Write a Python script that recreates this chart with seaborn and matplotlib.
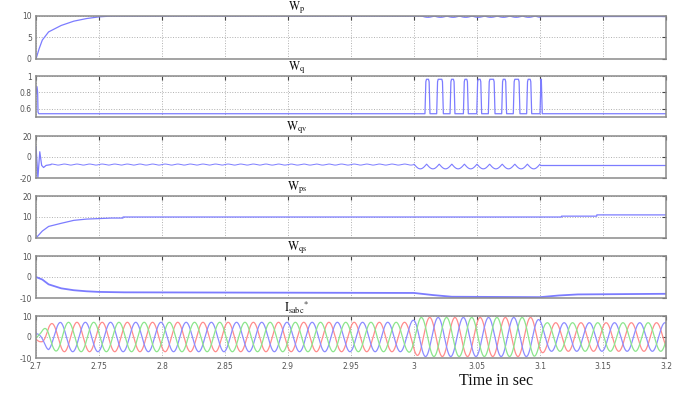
import numpy as np
import pandas as pd
import matplotlib
matplotlib.use("Agg")
import matplotlib.pyplot as plt
import seaborn as sns

sns.set_style("white")
plt.rcParams["mathtext.fontset"] = "stix"

# ---- values ----
x_ticks = [2.7, 2.75, 2.8, 2.85, 2.9, 2.95, 3.0, 3.05, 3.1, 3.15, 3.2]
x_labels = ["2.7", "2.75", "2.8", "2.85", "2.9", "2.95", "3", "3.05", "3.1", "3.15", "3.2"]

# W_p : rise then flat at 10, small dips between 3.006 and 3.1
wp_t = [2.7, 2.7025, 2.705, 2.71, 2.72, 2.73, 2.74, 2.75, 2.76, 3.006]
wp_v = [0.0, 2.4, 4.4, 6.3, 7.8, 8.8, 9.4, 9.8, 10.0, 10.0]
wp_dip_span = [3.006, 3.1]
wp_dip_depth = 0.3
wp_tail_t = [3.1, 3.2]
wp_tail_v = [10.0, 10.0]

# W_q : start spike, base level, pulse train
wq_t = [2.7, 2.7008, 2.7013, 2.7016, 2.7022, 3.0087]
wq_v = [0.78, 0.87, 0.80, 0.56, 0.54, 0.54]
wq_base = 0.54
wq_top = 0.96
wq_on = [3.0087, 3.0180, 3.0286, 3.0392, 3.0498, 3.0590, 3.0696, 3.0788, 3.0894, 3.1000]
wq_off = [3.0127, 3.0233, 3.0325, 3.0431, 3.0537, 3.0643, 3.0735, 3.0841, 3.0934, 3.1018]

# W_qv : transient, fine ripple, bigger ripple, flat
wqv_t = [2.7, 2.7008, 2.7015, 2.703, 2.7045, 2.706, 2.708, 2.712]
wqv_v = [10.0, -5.0, -20.0, 5.0, -8.0, -10.0, -8.0, -7.2]
wqv_fine = [2.712, 3.0, -7.2, 0.5]      # start, end, level, ripple
wqv_big = [3.0, 3.1, -6.8, 4.5]
wqv_tail_t = [3.1, 3.2]
wqv_tail_v = [-7.7, -7.7]
ripple_hz = 50

# W_ps : rise then small steps
wps_t = [2.7, 2.705, 2.71, 2.72, 2.73, 2.74, 2.76, 2.769, 2.7691, 3.117, 3.1171, 3.145, 3.1451, 3.2]
wps_v = [0.0, 3.3, 5.5, 7.0, 8.4, 9.0, 9.5, 9.5, 10.0, 10.0, 10.4, 10.4, 11.0, 11.0]

# W_qs : decay, dip between 3.0 and 3.1, recovery
wqs_t = [2.7, 2.705, 2.71, 2.72, 2.73, 2.74, 2.75, 2.77, 3.0, 3.015, 3.03, 3.1, 3.115, 3.13, 3.2]
wqs_v = [0.0, -1.2, -3.5, -5.4, -6.3, -6.8, -7.1, -7.3, -7.6, -8.6, -9.4, -9.6, -8.8, -8.3, -8.0]

# I_sabc* : three phase currents, 50 Hz, amplitude envelope
i_freq = 50
i_first_peak = 2.7125
i_phases = ["a", "b", "c"]
i_colors = ["#ff8c8c", "#8c8cff", "#8ce68c"]
i_env_t = [2.7, 2.704, 2.71, 2.72, 2.995, 3.005, 3.095, 3.105, 3.2]
i_env_a = [1.5, 2.5, 6.2, 7.0, 7.0, 9.3, 9.3, 6.8, 6.8]

line_blue = "#7c7cff"

# ---- layout (pixel rows of each panel) ----
W, H = 689, 394
left, right = 36, 666
rows = [(16, 59), (76, 117), (136, 178), (196, 238), (256, 298), (316, 358)]
ylims = [(0, 10), (0.5, 1), (-20, 20), (0, 20), (-10, 10), (-10, 10)]
yticks = [[0, 5, 10], [0.6, 0.8, 1], [-20, 0, 20], [0, 10, 20], [-10, 0, 10], [-10, 0, 10]]
ylabels = [["0", "5", "10"], ["0.6", "0.8", "1"], ["-20", "0", "20"],
           ["0", "10", "20"], ["-10", "0", "10"], ["-10", "0", "10"]]
titles = [r"$\mathrm{W_{p}}$", r"$\mathrm{W_{q}}$", r"$\mathrm{W_{qv}}$",
          r"$\mathrm{W_{ps}}$", r"$\mathrm{W_{qs}}$", r"$\mathrm{I_{sabc}}^{*}$"]

fig = plt.figure(figsize=(W / 100, H / 100), dpi=100)
axes = []
for top, bot in rows:
    ax = fig.add_axes([left / W, 1 - bot / H, (right - left) / W, (bot - top) / H])
    axes.append(ax)


def line(ax, t, v, color=line_blue, lw=0.9):
    sns.lineplot(x=np.asarray(t), y=np.asarray(v), ax=ax, color=color,
                 linewidth=lw, estimator=None, sort=False)


# W_p
ax = axes[0]
line(ax, wp_t, wp_v)
td = np.linspace(wp_dip_span[0], wp_dip_span[1], 600)
line(ax, td, 10 - wp_dip_depth * np.abs(np.sin(2 * np.pi * ripple_hz * (td - td[0]))))
line(ax, wp_tail_t, wp_tail_v)

# W_q
ax = axes[1]
pt, pv = list(wq_t), list(wq_v)
for on, off in zip(wq_on, wq_off):
    pt += [on, on + 0.0007, on + 0.0012, off - 0.0012, off - 0.0007, off]
    pv += [wq_base, wq_top - 0.03, wq_top, wq_top, wq_top - 0.03, wq_base]
pt += [3.2]
pv += [wq_base]
line(ax, pt, pv)

# W_qv
ax = axes[2]
line(ax, wqv_t, wqv_v)
tf = np.linspace(wqv_fine[0], wqv_fine[1], 3000)
line(ax, tf, wqv_fine[2] + wqv_fine[3] * np.sin(2 * np.pi * 2 * ripple_hz * tf), lw=0.7)
tb = np.linspace(wqv_big[0], wqv_big[1], 1500)
line(ax, tb, wqv_big[2] - wqv_big[3] * np.abs(np.sin(2 * np.pi * ripple_hz * (tb - tb[0]))), lw=0.8)
line(ax, wqv_tail_t, wqv_tail_v)

# W_ps
line(axes[3], wps_t, wps_v)

# W_qs
line(axes[4], wqs_t, wqs_v, lw=1.3)

# I_sabc*
ax = axes[5]
ti = np.linspace(2.7, 3.2, 5000)
env = np.interp(ti, i_env_t, i_env_a)
frames = []
for k, ph in enumerate(i_phases):
    shift = k / (3 * i_freq)
    frames.append(pd.DataFrame({"t": ti,
                                "i": env * np.cos(2 * np.pi * i_freq * (ti - i_first_peak - shift)),
                                "phase": ph}))
df_i = pd.concat(frames)
sns.lineplot(data=df_i, x="t", y="i", hue="phase", palette=i_colors, ax=ax,
             linewidth=0.9, estimator=None, sort=False, legend=False)

# ---- styling ----
for k, ax in enumerate(axes):
    ax.set_xlim(2.7, 3.2)
    ax.set_ylim(*ylims[k])
    ax.set_xticks(x_ticks)
    ax.set_yticks(yticks[k])
    ax.set_yticklabels(ylabels[k])
    if k == 5:
        ax.set_xticklabels(x_labels)
    else:
        ax.set_xticklabels([])
    ax.set_xlabel("")
    ax.set_ylabel("")
    ax.grid(True, linestyle=":", color="#b0b0b0", linewidth=0.7)
    ax.tick_params(direction="in", length=3, width=0.8, color="#444444",
                   top=True, right=True, labelsize=5.5, labelcolor="#555555", pad=3)
    for s in ax.spines.values():
        s.set_color("#8a8a8a")
        s.set_linewidth(1.1)
    ax.text(0.414, 1.01, titles[k], transform=ax.transAxes, ha="center", va="bottom",
            fontsize=8.5, color="#111111")

fig.text(496 / W, 1 - 381 / H, "Time in sec", ha="center", va="center",
         fontsize=11.5, family="Liberation Serif", color="#111111")

fig.savefig("out.png", dpi=100)
